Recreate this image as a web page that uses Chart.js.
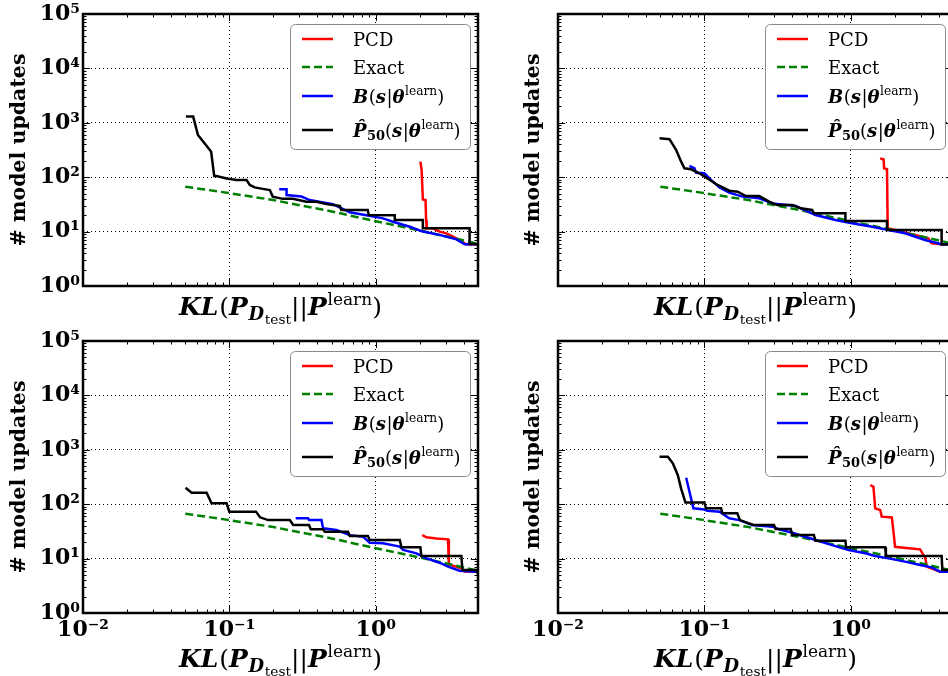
<!DOCTYPE html>
<html>
<head>
<meta charset="utf-8">
<script src="https://cdn.jsdelivr.net/npm/chart.js@4/dist/chart.umd.min.js"></script>
<style>
  html, body { margin: 0; padding: 0; background: #fff; overflow: hidden; width: 948px; height: 676px; position: relative; }
  canvas { position: absolute; }
</style>
</head>
<body>
<canvas id="tl" width="480" height="330" style="left:0;top:0"></canvas>
<canvas id="tr" width="480" height="330" style="left:480px;top:0"></canvas>
<canvas id="bl" width="480" height="346" style="left:0;top:330px"></canvas>
<canvas id="br" width="480" height="346" style="left:480px;top:330px"></canvas>
<script>
// tick values / labels
const xTicks = [0.01, 0.1, 1];
const xTickLabels = ['10⁻²', '10⁻¹', '10⁰'];
const yTicks = [1, 10, 100, 1000, 10000, 100000];
const yTickLabels = ['10⁰', '10¹', '10²', '10³', '10⁴', '10⁵'];
const seriesNames = ['PCD', 'Exact', 'B(s|θ^learn)', 'P̂50(s|θ^learn)'];

// "Exact" curve (same in every panel)
const exactX = [0.05, 0.1, 0.2, 0.5, 1, 2, 3, 5];
const exactY = [67, 51, 38, 23.5, 15.5, 10.5, 8.2, 6];

// top left
const tlPcdX = [2.02, 2.06, 2.10, 2.19, 2.21, 2.23, 2.46, 2.73, 3.04, 3.37, 3.74, 4.16, 5];
const tlPcdY = [193, 135, 39, 38, 16.3, 11.5, 11.5, 10, 9.3, 8.1, 7, 5.85, 5.85];
const tlBX = [0.219, 0.246, 0.246, 0.311, 0.354, 0.448, 0.511, 0.58, 0.665, 0.864, 1.12, 1.31, 1.71, 2.10, 2.73, 3.56, 4.05, 5];
const tlBY = [60, 60, 47, 44, 38, 34, 32, 27, 22.6, 20, 17.5, 15.2, 12.3, 10, 8.7, 7.2, 5.85, 5.85];
const tlPX = [0.0505, 0.0566, 0.061, 0.0736, 0.0751, 0.0788, 0.0817, 0.0957, 0.112, 0.131, 0.138, 0.149, 0.169, 0.189, 0.198, 0.232, 0.271, 0.336, 0.394, 0.461, 0.568, 0.583, 0.882, 0.896, 1.35, 1.35, 2.10, 2.10, 4.38, 4.38, 5];
const tlPY = [1300, 1300, 597, 316, 293, 105, 105, 95, 89, 89, 72, 65, 61, 58, 44, 40, 40, 35.5, 35.5, 32, 29.6, 25, 25, 20.2, 20, 16.3, 16.3, 11.5, 11.5, 5.9, 5.9];

// top right
const trPcdX = [1.59, 1.68, 1.69, 1.77, 1.79, 2.23, 2.75, 3.39, 3.57, 4.2];
const trPcdY = [222, 212, 146, 140, 11.5, 10, 8.7, 7.5, 6.1, 5.85];
const trBX = [0.079, 0.0855, 0.0879, 0.1, 0.111, 0.127, 0.148, 0.182, 0.237, 0.292, 0.421, 0.575, 0.787, 1.02, 1.40, 1.81, 2.35, 3.22, 4.18, 5];
const trBY = [161, 146, 121, 118, 89, 65, 52, 44, 41, 33, 29.6, 20.2, 16.3, 14.2, 12.3, 10.7, 9.3, 7, 5.85, 5.85];
const trPX = [0.0494, 0.0578, 0.0642, 0.0694, 0.0731, 0.0811, 0.0925, 0.105, 0.123, 0.148, 0.169, 0.192, 0.237, 0.277, 0.315, 0.399, 0.455, 0.545, 0.560, 0.920, 0.92, 1.77, 1.77, 4.18, 4.18, 5];
const trPY = [519, 500, 316, 193, 146, 140, 118, 95, 72, 56.5, 54, 45, 45, 35.5, 30.7, 30.7, 26.8, 25, 21.7, 21.7, 15.7, 15.7, 10.7, 10.7, 5.8, 5.8];

// bottom left
const blPcdX = [2.08, 2.22, 2.60, 3.12, 3.16, 3.85, 4.05, 5];
const blPcdY = [27.2, 24.6, 23.5, 22.6, 7.8, 6.6, 5.8, 5.8];
const blBX = [0.284, 0.345, 0.351, 0.426, 0.437, 0.539, 0.665, 0.819, 0.910, 1.12, 1.46, 1.54, 1.90, 2.22, 2.73, 3.12, 3.74, 4.74, 5];
const blBY = [55, 55, 51, 51, 36, 33.5, 27, 25.3, 19.6, 19.1, 16.6, 14.4, 12.5, 10.1, 8.4, 7.1, 6.0, 5.75, 5.75];
const blPX = [0.0502, 0.0552, 0.0699, 0.0756, 0.0957, 0.1, 0.152, 0.162, 0.184, 0.259, 0.273, 0.35, 0.36, 0.437, 0.449, 0.647, 0.665, 0.885, 0.910, 1.46, 1.50, 2.02, 2.05, 3.85, 3.91, 4.89, 5];
const blPY = [201, 163, 163, 104, 104, 73, 73, 57.4, 51, 51, 41.5, 41.5, 34.5, 34.5, 31.2, 31.2, 26, 26, 22, 22, 16.1, 16.1, 11.2, 11.2, 6.2, 6.2, 5.2];

// bottom right
const brPcdX = [1.36, 1.43, 1.47, 1.59, 1.63, 1.91, 1.96, 2.01, 2.48, 2.98, 3.14, 3.22, 3.31, 4.08, 5];
const brPcdY = [225, 210, 84, 78, 59, 57, 31.2, 16.5, 15.5, 14.8, 11.6, 10.8, 7.1, 5.75, 5.75];
const brBX = [0.0751, 0.0842, 0.1, 0.105, 0.127, 0.148, 0.173, 0.213, 0.292, 0.324, 0.399, 0.575, 0.746, 0.969, 1.26, 1.47, 1.81, 2.35, 2.98, 3.57, 4.08, 5];
const brBY = [307, 84, 80, 76, 73, 55, 51, 41.5, 38.6, 34.5, 29.9, 22, 17.7, 14.4, 12.5, 11.2, 10.1, 8.8, 7.6, 6.9, 5.75, 5.75];
const brPX = [0.0494, 0.0563, 0.0609, 0.0658, 0.0693, 0.0743, 0.1, 0.1026, 0.130, 0.133, 0.168, 0.175, 0.216, 0.299, 0.307, 0.389, 0.399, 0.560, 0.575, 0.920, 0.930, 1.72, 1.74, 4.18, 4.23, 5];
const brPY = [747, 747, 564, 344, 196, 107, 107, 84, 84, 68, 68, 51, 41.5, 41.5, 35, 35, 27.2, 27.2, 21.3, 21.3, 16.1, 16.1, 11.2, 11.2, 6.2, 6.2];

const SERIF = "'DejaVu Serif', serif";

// rich text: [text, style, level]  style b/bi/n, level 0 base, 1 sup, -1 sub, -2 subsub
const xTitleRuns = [['KL', 'bi', 0], ['(', 'n', 0], ['P', 'bi', 0], ['D', 'bi', -1], ['test', 'n', -2],
  ['||', 'n', 0], ['P', 'bi', 0], ['learn', 'n', 1], [')', 'n', 0]];
const legendRuns = [
  [['PCD', 'n', 0]],
  [['Exact', 'n', 0]],
  [['B', 'bi', 0], ['(', 'n', 0], ['s', 'bi', 0], ['|', 'n', 0], ['θ', 'bi', 0], ['learn', 'n', 1], [')', 'n', 0]],
  [['P\u0302', 'bi', 0], ['50', 'b', -1], ['(', 'n', 0], ['s', 'bi', 0], ['|', 'n', 0], ['θ', 'bi', 0], ['learn', 'n', 1], [')', 'n', 0]]
];

function runFont(style, size) {
  const w = style.indexOf('b') >= 0 ? 'bold ' : '';
  const i = style.indexOf('i') >= 0 ? 'italic ' : '';
  return i + w + size + 'px ' + SERIF;
}
function levelOf(l) {
  if (l === 1) return [0.68, -0.42];
  if (l === -1) return [0.72, 0.2];
  if (l === -2) return [0.55, 0.36];
  return [1, 0];
}
function drawRich(ctx, runs, x, y, size, align) {
  let total = 0;
  runs.forEach(r => {
    const [s] = levelOf(r[2]);
    ctx.font = runFont(r[1], size * s);
    total += ctx.measureText(r[0]).width + (r[1] === 'bi' ? size * 0.03 : 0);
  });
  let cx = align === 'center' ? x - total / 2 : x;
  ctx.textAlign = 'left';
  ctx.textBaseline = 'alphabetic';
  runs.forEach(r => {
    const [s, dy] = levelOf(r[2]);
    ctx.font = runFont(r[1], size * s);
    ctx.fillText(r[0], cx, y + dy * size);
    cx += ctx.measureText(r[0]).width + (r[1] === 'bi' ? size * 0.03 : 0);
  });
}

function logMarks(min, max) {
  const out = [];
  for (let e = Math.floor(Math.log10(min)); e <= Math.ceil(Math.log10(max)); e++) {
    for (let k = 1; k < 10; k++) {
      const v = k * Math.pow(10, e);
      if (v >= min * 0.999 && v <= max * 1.001) out.push([v, k === 1]);
    }
  }
  return out;
}

function pts(xs, ys) {
  return xs.map((x, i) => ({ x: x, y: ys[i] }));
}

function makePanel(id, d, o) {
  const colors = ['#ff0000', '#008000', '#0000ff', '#000000'];
  const dashes = [[], [8, 4], [], []];
  const frame = {
    id: 'frame',
    afterDraw(chart) {
      const ctx = chart.ctx, a = chart.chartArea;
      const xs = chart.scales.x, ys = chart.scales.y;
      ctx.save();
      ctx.strokeStyle = '#000';
      ctx.lineWidth = 1;
      ctx.beginPath();
      logMarks(xs.min, xs.max).forEach(m => {
        const p = Math.round(xs.getPixelForValue(m[0])) + 0.5, len = m[1] ? 7 : 3.5;
        ctx.moveTo(p, a.bottom); ctx.lineTo(p, a.bottom - len);
        ctx.moveTo(p, a.top); ctx.lineTo(p, a.top + len);
      });
      logMarks(ys.min, ys.max).forEach(m => {
        const p = Math.round(ys.getPixelForValue(m[0])) + 0.5, len = m[1] ? 7 : 3.5;
        ctx.moveTo(a.left, p); ctx.lineTo(a.left + len, p);
        ctx.moveTo(a.right, p); ctx.lineTo(a.right - len, p);
      });
      ctx.stroke();
      ctx.lineWidth = 2.5;
      ctx.strokeRect(a.left, a.top, a.right - a.left, a.bottom - a.top);

      // legend
      const w = 180, h = 125;
      const x0 = a.right - 8 - w, y0 = a.top + 10;
      ctx.beginPath();
      ctx.roundRect(x0 + 0.5, y0 + 0.5, w, h, 5);
      ctx.fillStyle = '#fff';
      ctx.fill();
      ctx.lineWidth = 1;
      ctx.strokeStyle = '#8a8a8a';
      ctx.stroke();
      const rows = [15, 43, 72, 106];
      chart.data.datasets.forEach((ds, i) => {
        const ly = y0 + rows[i];
        ctx.beginPath();
        ctx.setLineDash(ds.borderDash || []);
        ctx.strokeStyle = ds.borderColor;
        ctx.lineWidth = 2.5;
        ctx.moveTo(x0 + 12, ly);
        ctx.lineTo(x0 + 43, ly);
        ctx.stroke();
        ctx.setLineDash([]);
        ctx.fillStyle = '#000';
        drawRich(ctx, legendRuns[i], x0 + 63, ly + 6.5, 18, 'left');
      });

      // x axis title
      ctx.fillStyle = '#000';
      drawRich(ctx, xTitleRuns, (a.left + a.right) / 2, a.bottom + o.titleGap, 25, 'center');
      ctx.restore();
    }
  };
  return new Chart(document.getElementById(id), {
    type: 'line',
    data: {
      datasets: [
        { label: seriesNames[0], data: pts(d.pcdX, d.pcdY), order: 3 },
        { label: seriesNames[1], data: pts(exactX, exactY), order: 2 },
        { label: seriesNames[2], data: pts(d.bX, d.bY), order: 1 },
        { label: seriesNames[3], data: pts(d.pX, d.pY), order: 0 }
      ].map((ds, i) => Object.assign(ds, {
        borderColor: colors[i], borderDash: dashes[i], borderWidth: 2.5,
        pointRadius: 0, tension: 0, fill: false
      }))
    },
    options: {
      responsive: false,
      animation: false,
      layout: { padding: { left: o.padLeft, right: o.padRight, top: o.padTop, bottom: 0 } },
      plugins: { legend: { display: false }, tooltip: { enabled: false } },
      scales: {
        x: {
          type: 'logarithmic', min: 0.01, max: 5,
          afterBuildTicks: s => { s.ticks = xTicks.map(v => ({ value: v })); },
          afterFit: s => { s.height = o.xh; s.paddingLeft = 0; s.paddingRight = 0; },
          grid: { color: '#000', lineWidth: 1, drawTicks: false },
          border: { display: false, dash: [1, 3] },
          ticks: {
            display: o.xLabels, autoSkip: false, maxRotation: 0, padding: 4, color: '#000',
            font: { family: SERIF, weight: 'bold', size: 22 },
            callback: (v, i) => xTickLabels[i]
          }
        },
        y: {
          type: 'logarithmic', min: 1, max: 100000,
          afterBuildTicks: s => { s.ticks = yTicks.map(v => ({ value: v })); },
          afterFit: s => { s.width = o.yw; s.paddingTop = 0; s.paddingBottom = 0; },
          grid: { color: '#000', lineWidth: 1, drawTicks: false },
          border: { display: false, dash: [1, 3] },
          title: {
            display: true, text: '# model updates', color: '#000',
            font: { family: SERIF, weight: 'bold', size: 20.5 }, padding: { top: 4, bottom: 0 }
          },
          ticks: {
            display: o.yLabels, autoSkip: false, padding: 3, color: '#000',
            font: { family: SERIF, weight: 'bold', size: 22 },
            callback: (v, i) => yTickLabels[i]
          }
        }
      }
    },
    plugins: [frame]
  });
}

makePanel('tl', { pcdX: tlPcdX, pcdY: tlPcdY, bX: tlBX, bY: tlBY, pX: tlPX, pY: tlPY },
  { padLeft: 3, yw: 80, padRight: 2, padTop: 14, xh: 44, titleGap: 29, xLabels: false, yLabels: true });
makePanel('tr', { pcdX: trPcdX, pcdY: trPcdY, bX: trBX, bY: trBY, pX: trPX, pY: trPY },
  { padLeft: 37, yw: 41, padRight: 7, padTop: 14, xh: 44, titleGap: 29, xLabels: false, yLabels: false });
makePanel('bl', { pcdX: blPcdX, pcdY: blPcdY, bX: blBX, bY: blBY, pX: blPX, pY: blPY },
  { padLeft: 3, yw: 80, padRight: 2, padTop: 11, xh: 63, titleGap: 54, xLabels: true, yLabels: true });
makePanel('br', { pcdX: brPcdX, pcdY: brPcdY, bX: brBX, bY: brBY, pX: brPX, pY: brPY },
  { padLeft: 37, yw: 41, padRight: 7, padTop: 11, xh: 63, titleGap: 54, xLabels: true, yLabels: false });
</script>
</body>
</html>
